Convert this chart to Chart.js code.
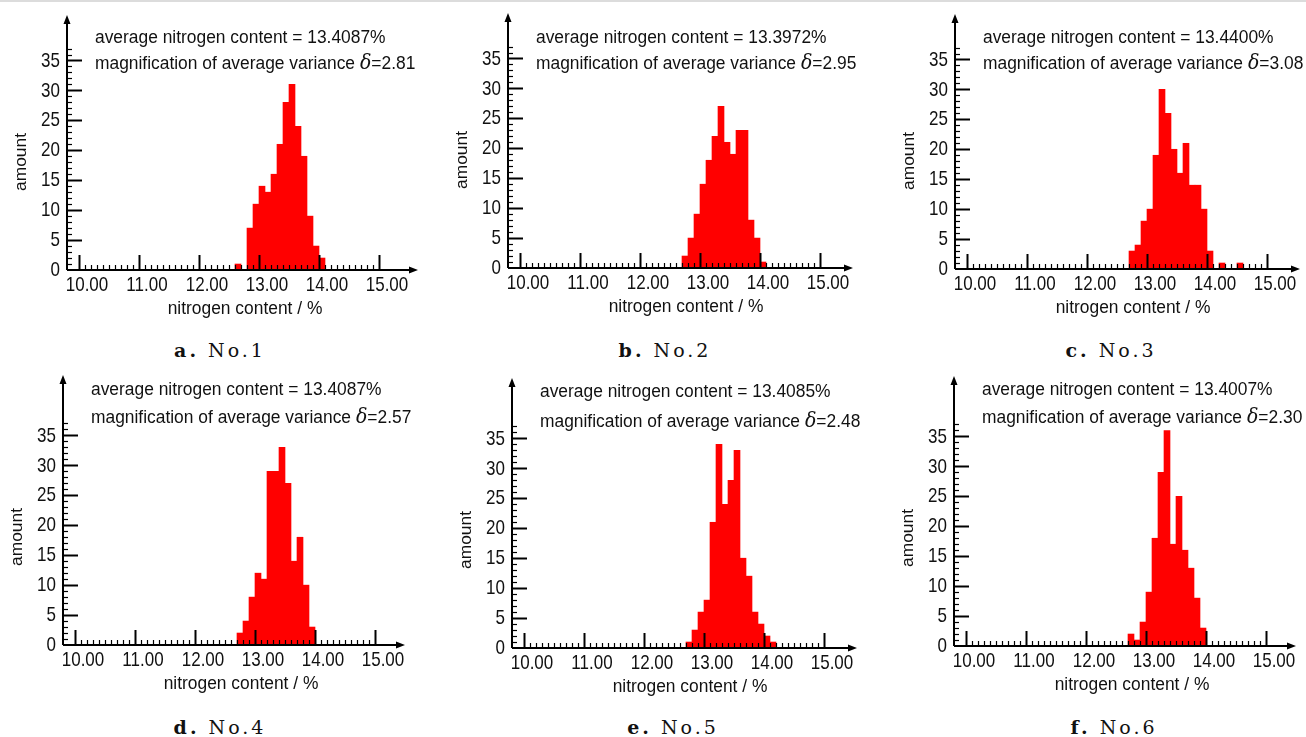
<!DOCTYPE html>
<html>
<head>
<meta charset="utf-8">
<script src="https://cdn.jsdelivr.net/npm/chart.js@4.4.0/dist/chart.umd.min.js"></script>
<style>
html, body { margin: 0; padding: 0; background: #fff; }
body { position: relative; width: 1306px; height: 737px; overflow: hidden; }
.topline { position: absolute; left: 0; top: 0; width: 1306px; height: 2px; background: #dcdcdc; }
.caption { position: absolute; transform: translate(-50%, -50%); white-space: nowrap;
  font-family: "DejaVu Serif", serif; font-size: 19px; letter-spacing: 3px; color: #111; }
</style>
</head>
<body>
<div class="topline"></div>
<script>
// histogram bins: start of each 0.1 % wide bin
const binStarts = [12.6, 12.7, 12.8, 12.9, 13.0, 13.1, 13.2, 13.3, 13.4, 13.5, 13.6, 13.7, 13.8, 13.9, 14.0, 14.1, 14.2, 14.3, 14.4, 14.5];
const countsNo1 = [1, 0, 7, 11, 14, 13, 16, 21, 28, 31, 24, 19, 9, 4, 2, 0, 0, 0, 0, 0];
const countsNo2 = [0, 2, 5, 9, 14, 18, 22, 27, 21, 19, 23, 23, 8, 5, 1, 0, 0, 0, 0, 0];
const countsNo3 = [0, 3, 4, 8, 10, 19, 30, 26, 20, 16, 21, 14, 14, 10, 3, 0, 1, 0, 0, 1];
const countsNo4 = [0, 2, 4, 8, 12, 11, 29, 29, 33, 27, 14, 18, 10, 3, 0, 0, 0, 0, 0, 0];
const countsNo5 = [0, 1, 3, 6, 8, 21, 34, 24, 28, 33, 15, 12, 6, 4, 2, 1, 0, 0, 0, 0];
const countsNo6 = [0, 2, 1, 4, 9, 18, 29, 36, 17, 25, 16, 13, 8, 3, 0, 0, 0, 0, 0, 0];

const sampleNames = ['No.1', 'No.2', 'No.3', 'No.4', 'No.5', 'No.6'];
const panelLetters = ['a.', 'b.', 'c.', 'd.', 'e.', 'f.'];
const meanContent = ['13.4087', '13.3972', '13.4400', '13.4087', '13.4085', '13.4007'];
const deltaValues = ['2.81', '2.95', '3.08', '2.57', '2.48', '2.30'];

const xTickValues = [10, 11, 12, 13, 14, 15];
const yTickValues = [0, 5, 10, 15, 20, 25, 30, 35];

const allCounts = [countsNo1, countsNo2, countsNo3, countsNo4, countsNo5, countsNo6];

// where each plot sits on the page (axis origin), text offsets, caption centre
const layout = [
  {ax: 67,  ay: 270, areaH: 255, yMax: 42.6, xMax: 15.65, t1: 232, t2: 206, cx: 220,  cy: 350},
  {ax: 508, ay: 268, areaH: 255, yMax: 42.6, xMax: 15.55, t1: 230, t2: 204, cx: 665,  cy: 350},
  {ax: 955, ay: 269, areaH: 255, yMax: 42.6, xMax: 15.55, t1: 231, t2: 205, cx: 1111, cy: 350},
  {ax: 63,  ay: 645, areaH: 270, yMax: 45.1, xMax: 15.5,  t1: 255, t2: 227, cx: 220,  cy: 727},
  {ax: 512, ay: 648, areaH: 270, yMax: 45.1, xMax: 15.55, t1: 256, t2: 226, cx: 673,  cy: 727},
  {ax: 954, ay: 646, areaH: 270, yMax: 45.1, xMax: 15.5,  t1: 256, t2: 228, cx: 1114, cy: 727}
];

const SANS = '"Liberation Sans", Arial, sans-serif';

// text in the source figure is a little taller than it is wide
function tallText(ctx, txt, x, y, sy) {
  ctx.save();
  ctx.translate(x, y);
  ctx.scale(1, sy);
  ctx.fillText(txt, 0, 0);
  ctx.restore();
}

const axesDraw = {
  id: 'axesDraw',
  afterDatasetsDraw(chart, args, opts) {
    const ctx = chart.ctx;
    const a = chart.chartArea;
    const x = chart.scales.x, y = chart.scales.y;
    ctx.save();
    ctx.strokeStyle = '#000';
    ctx.fillStyle = '#000';

    // x ticks, minor every 0.1, major every 1
    for (let i = 0; i <= 50; i++) {
      const px = Math.round(x.getPixelForValue(10 + i / 10)) + 0.5;
      const major = i % 10 === 0;
      ctx.lineWidth = major ? 2 : 1.2;
      ctx.beginPath();
      ctx.moveTo(px, a.bottom);
      ctx.lineTo(px, a.bottom - (major ? 15 : 5));
      ctx.stroke();
    }
    // y ticks, minor every 1, major every 5
    for (let v = 1; v <= 37; v++) {
      const py = Math.round(y.getPixelForValue(v)) + 0.5;
      const major = v % 5 === 0 && v <= 35;
      ctx.lineWidth = major ? 2 : 1.2;
      ctx.beginPath();
      ctx.moveTo(a.left, py);
      ctx.lineTo(a.left + (major ? 15 : 5), py);
      ctx.stroke();
    }

    // axis lines with arrow heads
    ctx.lineWidth = 2;
    ctx.beginPath();
    ctx.moveTo(a.left, a.bottom);
    ctx.lineTo(a.right - 4, a.bottom);
    ctx.moveTo(a.left, a.bottom);
    ctx.lineTo(a.left, a.top + 4);
    ctx.stroke();
    ctx.beginPath();
    ctx.moveTo(a.right, a.bottom);
    ctx.lineTo(a.right - 9, a.bottom - 3.5);
    ctx.lineTo(a.right - 9, a.bottom + 3.5);
    ctx.closePath();
    ctx.moveTo(a.left, a.top);
    ctx.lineTo(a.left - 3.5, a.top + 9);
    ctx.lineTo(a.left + 3.5, a.top + 9);
    ctx.closePath();
    ctx.fill();

    // tick labels
    ctx.fillStyle = '#111';
    ctx.font = '17px ' + SANS;
    ctx.textBaseline = 'middle';
    ctx.textAlign = 'center';
    xTickValues.forEach(v => tallText(ctx, v.toFixed(2), x.getPixelForValue(v) + 8, a.bottom + 15.5, 1.2));
    ctx.textAlign = 'right';
    yTickValues.forEach(v => tallText(ctx, String(v), a.left - 7, y.getPixelForValue(v) + 0.5, 1.2));

    // axis titles
    ctx.font = '17.4px ' + SANS;
    ctx.textAlign = 'center';
    tallText(ctx, 'nitrogen content / %', a.left + 178, a.bottom + 39, 1.1);
    ctx.save();
    ctx.translate(a.left - 46, a.bottom - 108);
    ctx.rotate(-Math.PI / 2);
    ctx.fillText('amount', 0, 0);
    ctx.restore();

    // annotation
    ctx.textAlign = 'left';
    const tx = a.left + 28;
    tallText(ctx, 'average nitrogen content = ' + opts.mean + '%', tx, a.bottom - opts.t1, 1.1);
    const part1 = 'magnification of average variance ';
    tallText(ctx, part1, tx, a.bottom - opts.t2, 1.1);
    let w = ctx.measureText(part1).width;
    ctx.font = 'italic 19px "DejaVu Serif", serif';
    tallText(ctx, 'δ', tx + w, a.bottom - opts.t2, 1.1);
    w += ctx.measureText('δ').width;
    ctx.font = '17.4px ' + SANS;
    tallText(ctx, '=' + opts.delta, tx + w, a.bottom - opts.t2, 1.1);
    ctx.restore();
  }
};

layout.forEach((p, i) => {
  const areaW = Math.round((p.xMax - 9.8) * 60);
  const W = 60 + areaW + 14;
  const H = 8 + p.areaH + 50;
  const canvas = document.createElement('canvas');
  canvas.width = W;
  canvas.height = H;
  canvas.style.cssText = 'position:absolute;left:' + (p.ax - 60) + 'px;top:' + (p.ay - p.areaH - 8) +
    'px;width:' + W + 'px;height:' + H + 'px';
  document.body.appendChild(canvas);

  const counts = allCounts[i];
  new Chart(canvas, {
    type: 'bar',
    data: {
      datasets: [{
        data: binStarts.map((b, k) => ({x: b + 0.05, y: counts[k]})),
        backgroundColor: '#ff0000',
        borderWidth: 0,
        barPercentage: 1,
        categoryPercentage: 1
      }]
    },
    options: {
      responsive: false,
      animation: false,
      layout: {padding: {top: 8, right: 14, left: 0, bottom: 0}},
      plugins: {
        legend: {display: false},
        tooltip: {enabled: false},
        axesDraw: {mean: meanContent[i], delta: deltaValues[i], t1: p.t1, t2: p.t2}
      },
      scales: {
        x: {
          type: 'linear', min: 9.8, max: p.xMax, offset: false,
          grid: {display: false, drawTicks: false},
          border: {display: false},
          afterBuildTicks: s => { s.ticks = xTickValues.map(v => ({value: v})); },
          afterFit: s => { s.height = 50; },
          ticks: {display: false}
        },
        y: {
          min: 0, max: p.yMax,
          grid: {display: false, drawTicks: false},
          border: {display: false},
          afterBuildTicks: s => { s.ticks = yTickValues.map(v => ({value: v})); },
          afterFit: s => { s.width = 60; },
          ticks: {display: false}
        }
      }
    },
    plugins: [axesDraw]
  });

  const cap = document.createElement('div');
  cap.className = 'caption';
  cap.style.left = p.cx + 'px';
  cap.style.top = p.cy + 'px';
  cap.innerHTML = '<b>' + panelLetters[i] + '</b> ' + sampleNames[i];
  document.body.appendChild(cap);
});
</script>
</body>
</html>
